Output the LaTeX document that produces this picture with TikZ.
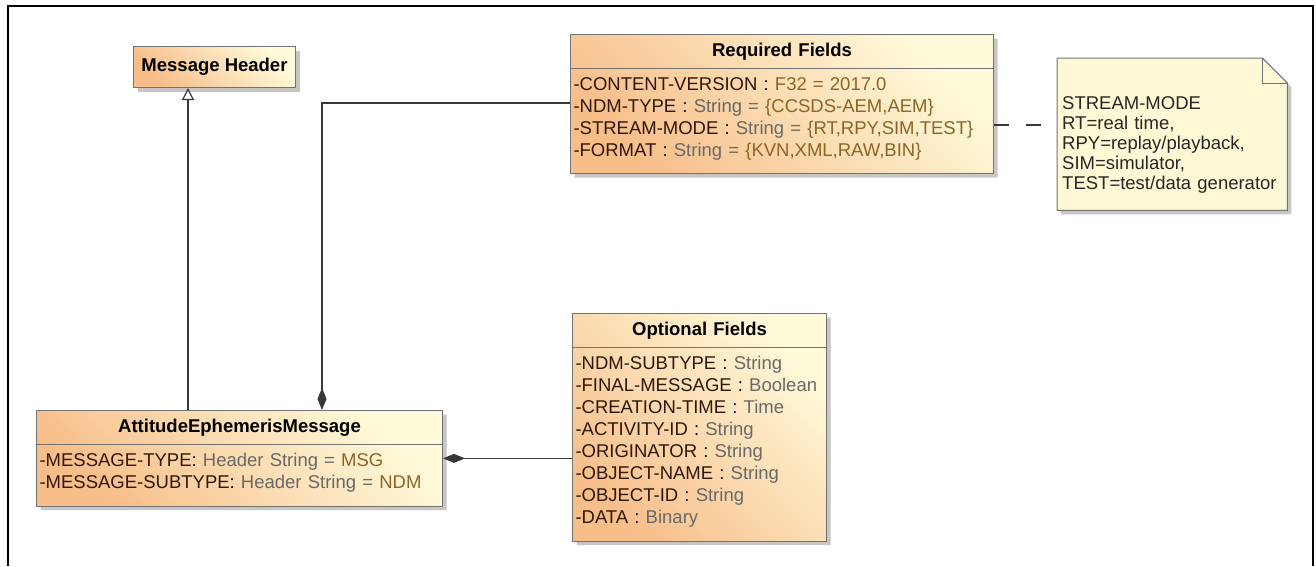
\documentclass[tikz,border=0pt]{standalone}
\usepackage{fontspec}
\setmainfont{Liberation Sans}
\usepackage{xcolor}
\usetikzlibrary{arrows.meta,shapes.multipart,shadows,backgrounds,calc,positioning}

\setlength{\parindent}{0pt}
\definecolor{clsorange}{RGB}{247,190,138}
\definecolor{clsyellow}{RGB}{255,250,218}
\definecolor{noteyellow}{RGB}{255,248,212}
\definecolor{attrname}{RGB}{48,24,12}
\definecolor{attrtype}{RGB}{105,105,105}
\definecolor{attrval}{RGB}{140,102,38}
\definecolor{linegray}{RGB}{55,55,55}

\newcommand{\nm}[1]{\textcolor{attrname}{#1}}
\newcommand{\ty}[1]{\textcolor{attrtype}{#1}}
\newcommand{\vl}[1]{\textcolor{attrval}{#1}}
\newcommand{\clstitle}[1]{\hfill\textbf{#1}\hfill\null}
\newcommand{\rowend}{\rule[-9pt]{0pt}{9pt}}

\begin{document}
\begin{tikzpicture}[x=1pt,y=-1pt,
  font=\fontsize{18.5}{22}\selectfont,
  umlshadow/.style={drop shadow={shadow xshift=4pt,shadow yshift=-4pt,fill=black!50,opacity=.45}},
  umlbox/.style={draw=black!55,line width=1pt,left color=clsorange,right color=clsyellow,
    shading angle=135,anchor=north west,umlshadow},
  umlclass/.style={umlbox,rectangle split,rectangle split parts=2,inner xsep=3pt,inner ysep=8pt,align=left},
  link/.style={draw=linegray,line width=1.2pt},
  compose/.style={link,-{Diamond[length=22pt,width=9pt]}},
  realize/.style={link,-{Triangle[open,length=12pt,width=12pt,fill=white]}},
  notelink/.style={link,dash pattern=on 15pt off 17pt}]
\useasboundingbox (0,0) rectangle (1316,566);
\draw[line width=2.5pt] (8,566) -- (8,6) -- (1313,6) -- (1313,566);

\node[umlbox,minimum width=162pt,minimum height=41pt] (hdr) at (133,46) {\textbf{Message Header}};

\node[umlclass,text width=417pt] (req) at (570,34) {\clstitle{Required Fields}
  \nodepart{second}\nm{-CONTENT-VERSION} : \vl{F32 = 2017.0}\\
  \nm{-NDM-TYPE} : \ty{String =} \vl{\{CCSDS-AEM,AEM\}}\\
  \nm{-STREAM-MODE} : \ty{String =} \vl{\{RT,RPY,SIM,TEST\}}\\
  \nm{-FORMAT} : \ty{String =} \vl{\{KVN,XML,RAW,BIN\}}\rowend};

\node[umlclass,text width=248pt] (opt) at (572,313) {\clstitle{Optional Fields}
  \nodepart{second}\nm{-NDM-SUBTYPE} : \ty{String}\\
  \nm{-FINAL-MESSAGE} : \ty{Boolean}\\
  \nm{-CREATION-TIME} : \ty{Time}\\
  \nm{-ACTIVITY-ID} : \ty{String}\\
  \nm{-ORIGINATOR} : \ty{String}\\
  \nm{-OBJECT-NAME} : \ty{String}\\
  \nm{-OBJECT-ID} : \ty{String}\\
  \nm{-DATA} : \ty{Binary}\rowend};

\node[umlclass,text width=400pt] (aem) at (36,410) {\clstitle{AttitudeEphemerisMessage}
  \nodepart{second}\nm{-MESSAGE-TYPE}: \ty{Header String =} \vl{MSG}\\
  \nm{-MESSAGE-SUBTYPE}: \ty{Header String =} \vl{NDM}\rowend};

\node[anchor=north west,text width=220pt,inner xsep=5pt,inner ysep=0pt,align=left,
  text=black!85,font=\fontsize{18.5}{20}\selectfont] (note) at (1057,58)
  {\rule{0pt}{51pt}STREAM-MODE\\ RT=real time,\\ RPY=replay/playback,\\ SIM=simulator,\\
   TEST=test/data generator\rule[-21pt]{0pt}{21pt}};
\begin{scope}[on background layer]
\filldraw[draw=black!55,line width=1pt,fill=noteyellow,umlshadow] (note.south west) -- (note.north west)
  -- ($(note.north east)+(-25,0)$) -- ($(note.north east)+(0,25)$) -- (note.south east) -- cycle;
\draw[black!55,line width=1pt] ($(note.north east)+(-25,0)$) -- ++(0,25) -- ++(25,0);
\end{scope}

\draw[realize] ($(aem.north west)+(152,0)$) -- ($(hdr.south west)+(55,0)$);
\draw[compose] ($(req.north west)+(0,69)$) -| ($(aem.north west)+(286,0)$);
\draw[compose] (opt.west |- aem.east) -- (aem.east);
\coordinate (sm) at ($(req.north east)+(0,91)$);
\draw[notelink] (sm) -- (sm -| note.west);
\end{tikzpicture}
\end{document}
